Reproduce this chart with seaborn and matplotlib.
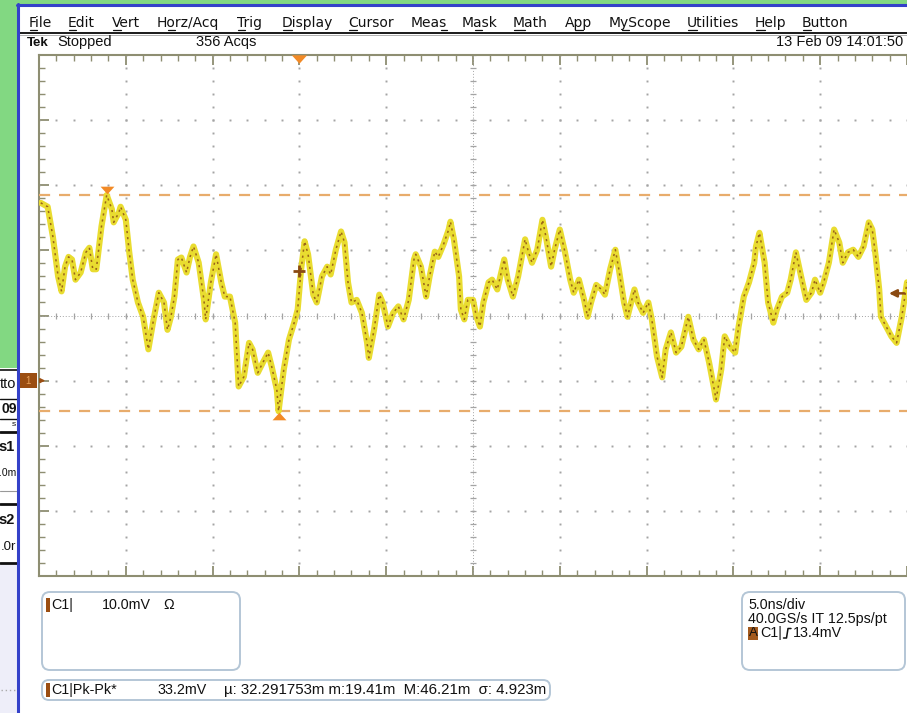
import numpy as np
import pandas as pd
import matplotlib
matplotlib.use("Agg")
import matplotlib.pyplot as plt
import seaborn as sns
from matplotlib.patches import Rectangle, FancyBboxPatch
from matplotlib.transforms import offset_copy

# ---- channel 1 record: time relative to trigger (ns) and amplitude (mV) ----
t_ns = [
    -14.9, -14.5, -14.2, -13.9, -13.7, -13.5, -13.3, -13.1, -12.9, -12.6,
    -12.3, -12.1, -11.9, -11.7, -11.4, -11.1, -10.8, -10.7, -10.4, -10.3,
    -10.0, -9.8, -9.6, -9.3, -9.0, -8.7, -8.4, -8.1, -7.8, -7.6,
    -7.4, -7.2, -7.0, -6.8, -6.5, -6.3, -6.1, -5.8, -5.5, -5.4,
    -5.1, -4.8, -4.5, -4.3, -4.0, -3.7, -3.5, -3.2, -2.9, -2.7,
    -2.4, -2.1, -1.8, -1.6, -1.3, -1.2, -0.9, -0.6, -0.3, -0.1,
    0.1, 0.3, 0.5, 0.8, 1.0, 1.3, 1.6, 1.8, 2.1, 2.4,
    2.6, 2.8, 3.0, 3.3, 3.6, 3.9, 4.0, 4.3, 4.6, 4.8,
    5.1, 5.4, 5.7, 6.0, 6.3, 6.6, 6.7, 7.0, 7.3, 7.5,
    7.8, 8.0, 8.3, 8.6, 8.7, 8.9, 9.2, 9.3, 9.5, 9.7,
    10.0, 10.2, 10.4, 10.6, 10.9, 11.1, 11.4, 11.8, 12.0, 12.3,
    12.6, 13.0, 13.2, 13.4, 13.7, 14.0, 14.2, 14.5, 14.7, 15.0,
    15.3, 15.6, 15.8, 16.1, 16.4, 16.6, 16.8, 17.1, 17.4, 17.6,
    17.9, 18.2, 18.4, 18.7, 18.9, 19.3, 19.5, 19.8, 20.1, 20.3,
    20.6, 20.9, 21.1, 21.4, 21.7, 22.0, 22.4, 22.7, 23.0, 23.3,
    23.6, 23.9, 24.0, 24.3, 24.5, 24.8, 25.1, 25.3, 25.6, 25.9,
    26.2, 26.3, 26.5, 26.8, 27.0, 27.3, 27.5, 27.8, 28.1, 28.3,
    28.6, 28.9, 29.2, 29.5, 29.7, 30.0, 30.2, 30.5, 30.8, 31.1,
    31.3, 31.6, 31.9, 32.2, 32.5, 32.8, 33.0, 33.2, 33.4, 33.5,
    33.8, 34.1, 34.4, 34.7, 35.0,
]
v_mv = [
    27.3, 26.7, 22.1, 16.0, 13.7, 17.5, 19.0, 18.6, 15.5, 16.6,
    19.7, 20.4, 17.1, 17.1, 23.7, 28.5, 26.3, 24.3, 25.8, 26.7,
    24.7, 19.7, 15.5, 12.0, 9.8, 4.8, 9.4, 13.5, 12.0, 7.8,
    9.8, 12.9, 18.6, 18.9, 16.6, 19.0, 20.6, 18.1, 12.4, 9.4,
    15.1, 19.4, 15.1, 12.9, 12.9, 8.9, -0.9, 0.6, 5.8, 4.8,
    1.2, 2.8, 4.3, 2.2, -1.4, -4.7, 1.7, 6.3, 8.9, 10.9,
    17.1, 21.4, 19.4, 13.2, 12.0, 16.0, 17.5, 16.3, 20.1, 22.9,
    21.2, 15.1, 12.0, 12.4, 10.4, 5.8, 3.5, 7.8, 13.2, 12.0,
    8.3, 10.4, 11.4, 9.4, 12.4, 18.6, 19.4, 17.5, 12.9, 16.0,
    19.8, 19.0, 20.9, 23.2, 24.4, 21.7, 16.0, 10.9, 9.4, 12.4,
    12.4, 9.8, 8.3, 12.0, 15.1, 15.5, 14.0, 18.6, 15.5, 12.9,
    16.0, 21.7, 19.7, 18.1, 20.1, 24.7, 22.1, 17.5, 20.1, 23.2,
    19.7, 15.5, 13.5, 15.5, 12.4, 9.8, 12.0, 14.7, 14.0, 13.2,
    17.1, 20.1, 17.1, 12.0, 9.8, 14.0, 12.0, 10.4, 12.0, 9.4,
    3.7, 0.5, 4.8, 7.4, 4.3, 5.2, 9.8, 6.3, 4.8, 6.3,
    2.8, -1.4, -2.9, 1.7, 6.8, 5.2, 4.3, 8.3, 12.9, 15.1,
    18.1, 20.6, 22.7, 18.1, 12.0, 8.9, 10.9, 12.9, 13.5, 15.5,
    19.7, 16.0, 12.4, 13.5, 15.5, 13.5, 15.1, 18.1, 23.2, 21.2,
    18.1, 19.7, 20.1, 19.0, 20.6, 24.3, 23.2, 19.0, 14.0, 9.8,
    8.3, 6.8, 5.8, 9.8, 15.1,
]

# ---- instrument settings and readouts ----
ns_per_div = 5.0
mv_per_div = 10.0
trigger_level_mv = 13.4
trigger_mark = (0.0, 16.8)
acq_count = 356
timestamp = "13 Feb 09 14:01:50"
sample_rate = "40.0GS/s IT 12.5ps/pt"
stat_labels = ["µ: 32.291753m", "m:19.41m", " M:46.21m", " σ: 4.923m"]

menu_items = ["File", "Edit", "Vert", "Horz/Acq", "Trig", "Display", "Cursor",
              "Meas", "Mask", "Math", "App", "MyScope", "Utilities", "Help", "Button"]
menu_x = [29, 68, 112, 157, 237, 282, 348, 411, 462, 513, 565, 609, 687, 755, 802]
menu_hotkey = [0, 0, 0, 1, 0, 0, 0, 3, 1, 0, 1, 1, 0, 0, 0]

sns.set_theme(style="white")
plt.rcParams["font.family"] = ["Liberation Sans", "DejaVu Sans"]

W, H = 907, 713
fig = plt.figure(figsize=(W / 100, H / 100), dpi=100)
fig.patch.set_facecolor("white")

brown = "#9b4e12"
orange = "#f28a26"
cursor_col = "#e8ac6c"
grid_col = "#a4a4a4"
olive = "#8e8e72"

# ---- graticule: 10 x 8 divisions ----
gx0, gx1, gy0, gy1 = 39, 907, 55, 576
ax = fig.add_axes([gx0 / W, 1 - gy1 / H, (gx1 - gx0) / W, (gy1 - gy0) / H], zorder=2)
t_lo, t_hi = -3 * ns_per_div, 7 * ns_per_div
v_lo, v_hi = -3 * mv_per_div, 5 * mv_per_div
t_c, v_c = (t_lo + t_hi) / 2, (v_lo + v_hi) / 2
major_t = np.arange(t_lo, t_hi + 0.01, ns_per_div)
major_v = np.arange(v_lo, v_hi + 0.01, mv_per_div)
minor_t = np.arange(t_lo, t_hi + 0.01, ns_per_div / 5)
minor_v = np.arange(v_lo, v_hi + 0.01, mv_per_div / 5)

df = pd.DataFrame({"t": t_ns, "v": v_mv})
sns.lineplot(data=df, x="t", y="v", sort=False, estimator=None,
             color="#e9dc30", lw=4.4, ax=ax, zorder=4)
sns.lineplot(data=df, x="t", y="v", sort=False, estimator=None,
             color="#9a6418", lw=1.1, ax=ax, zorder=5)
ax.lines[-1].set_dashes([1.4, 2.6])

ax.set_xlim(t_lo, t_hi)
ax.set_ylim(v_lo, v_hi)
ax.set_xlabel("")
ax.set_ylabel("")
ax.set_facecolor("white")

for t in major_t[1:-1]:
    if abs(t - t_c) < 1e-9:
        continue
    ax.plot(np.full(len(minor_v), t), minor_v, ls="none", marker="s", ms=1.4,
            mew=0, color=grid_col, zorder=1)
for v in major_v[1:-1]:
    if abs(v - v_c) < 1e-9:
        continue
    ax.plot(minor_t, np.full(len(minor_t), v), ls="none", marker="s", ms=1.4,
            mew=0, color=grid_col, zorder=1)
ax.axhline(v_c, color=grid_col, lw=0.7, ls=(0, (1, 2)), zorder=1)
ax.plot(minor_t, np.full(len(minor_t), v_c), ls="none", marker="|", ms=4,
        mew=0.9, color=grid_col, zorder=1)
ax.axvline(t_c, color=grid_col, lw=0.7, ls=(0, (1, 2)), zorder=1)
ax.plot(np.full(len(minor_v), t_c), minor_v, ls="none", marker="_", ms=4,
        mew=0.9, color=grid_col, zorder=1)

ax.set_xticks(major_t)
ax.set_xticks(minor_t, minor=True)
ax.set_yticks(major_v)
ax.set_yticks(minor_v, minor=True)
ax.tick_params(which="both", direction="in", bottom=True, top=True, left=True,
               right=False, labelbottom=False, labelleft=False, color=olive)
ax.tick_params(which="major", length=7, width=1.3)
ax.tick_params(which="minor", length=4, width=1.0)
for side in ["left", "top", "bottom"]:
    ax.spines[side].set_visible(True)
    ax.spines[side].set_color(olive)
    ax.spines[side].set_linewidth(1.5)
ax.spines["right"].set_visible(False)

# peak cursors from the record extremes
vmax, vmin = df["v"].max(), df["v"].min()
tmax, tmin = df["t"][df["v"].idxmax()], df["t"][df["v"].idxmin()]
for val in (vmax, vmin):
    ax.axhline(val, color=cursor_col, lw=1.6, dashes=(5, 4), zorder=3)
tri_down = [(-1, 0.55), (1, 0.55), (0, -0.55)]
tri_up = [(-1, -0.55), (1, -0.55), (0, 0.55)]
ax.plot([tmax], [vmax], marker=tri_down, ms=10, mew=0, color=orange, zorder=6,
        transform=offset_copy(ax.transData, fig=fig, x=0, y=5, units="dots"))
ax.plot([tmin], [vmin], marker=tri_up, ms=10, mew=0, color=orange, zorder=6,
        transform=offset_copy(ax.transData, fig=fig, x=0, y=-5, units="dots"))
# trigger position at the top edge
ax.plot([0.0], [v_hi], marker=tri_down, ms=11, mew=0, color=orange, zorder=6,
        clip_on=False,
        transform=offset_copy(ax.transData, fig=fig, x=0, y=-4, units="dots"))
ax.plot([trigger_mark[0]], [trigger_mark[1]], marker="+", ms=8, mew=2,
        color="#8a4a12", zorder=7)
# trigger level on the right edge
ax.annotate("", xy=(t_hi - 1.2, trigger_level_mv), xytext=(t_hi, trigger_level_mv),
            arrowprops=dict(arrowstyle="-|>", color="#8a4a12", lw=1.8,
                            mutation_scale=11),
            annotation_clip=False, zorder=7)

# ---- window chrome in screen pixels ----
ui = fig.add_axes([0, 0, 1, 1], zorder=3)
ui.set_xlim(0, W)
ui.set_ylim(H, 0)
ui.axis("off")
ui.patch.set_visible(False)

green = "#82d882"
blue = "#3441c9"
ui.add_patch(Rectangle((0, 0), W, 4.5, color=green, lw=0))
ui.add_patch(Rectangle((0, 0), 17, 368, color=green, lw=0))
ui.add_patch(Rectangle((0, 368), 17, 197, color="white", lw=0))
ui.add_patch(Rectangle((0, 565), 17, 148, color="#eeeef9", lw=0))
ui.plot([17.5, 17.5], [4, H], color=blue, lw=2.2, zorder=5)
ui.plot([17, W], [5.2, 5.2], color=blue, lw=2.2, zorder=5)

# menu bar with hot-key underlines
renderer = fig.canvas.get_renderer()
menu_font = dict(fontsize=10, family="DejaVu Sans", va="baseline", ha="left",
                 color="#111111")


def text_width(s):
    if not s:
        return 0.0
    tmp = ui.text(0, 0, s, **menu_font)
    w = tmp.get_window_extent(renderer).width
    tmp.remove()
    return w


for name, x, k in zip(menu_items, menu_x, menu_hotkey):
    ui.text(x, 27, name, **menu_font)
    w0 = text_width(name[:k])
    w1 = text_width(name[:k + 1])
    ui.plot([x + w0 + 0.5, x + w1 - 0.5], [29.8, 29.8], color="#111111", lw=0.9)

ui.plot([19, W], [32.5, 32.5], color="#1a1a1a", lw=1.4)
ui.plot([19, W], [34.5, 34.5], color="#b0b0b0", lw=0.7)

# status line
ui.text(27, 46, "Tek", fontsize=9.5, fontweight="bold", va="baseline", color="#111111")
ui.text(57, 46, "Stopped", fontsize=10.5, va="baseline", color="#111111")
ui.text(196, 46, f"{acq_count} Acqs", fontsize=10.5, va="baseline", color="#111111")
ui.text(903, 46, timestamp, fontsize=10.5, va="baseline", ha="right", color="#111111")

# channel 1 ground reference marker
y_gnd = gy0 + (v_hi - 0.0) / (v_hi - v_lo) * (gy1 - gy0)
ui.add_patch(Rectangle((20, y_gnd - 7.5), 17, 15, color=brown, lw=0, zorder=6))
ui.text(28.5, y_gnd, "1", fontsize=7, color="#e9a25a", ha="center", va="center", zorder=7)
ui.annotate("", xy=(48, y_gnd), xytext=(37, y_gnd),
            arrowprops=dict(arrowstyle="-|>", color=brown, lw=1, mutation_scale=7))

# neighbouring window at the left, partly hidden by the frame
side_lines = [(369.5, 1.2, "#111111"), (398.5, 1.0, "#111111"), (418.5, 1.0, "#111111"),
              (432, 2.0, "#111111"), (491, 0.8, "#999999"), (504, 2.0, "#111111"),
              (563, 2.0, "#111111")]
for yy, lw, col in side_lines:
    ui.plot([0, 17], [yy, yy], color=col, lw=lw)
side_text = [("tto", 16.5, 384, "normal", 10.5), ("09", 16.5, 409, "bold", 10),
             ("s", 16, 425, "normal", 6), ("s1", 15, 447, "bold", 10.5),
             (".0m", 16.5, 473, "normal", 7.5), ("s2", 15, 520, "bold", 10.5),
             (".0r", 16.5, 547, "normal", 9.5)]
for s, x, y, wt, fs in side_text:
    ui.text(x, y, s, ha="right", va="center", fontsize=fs, fontweight=wt,
            color="#111111")
ui.plot([1, 15], [690, 690], color="#aaaaaa", lw=1, ls=(0, (1, 2)))

# readout boxes
box_kw = dict(boxstyle="round,pad=0,rounding_size=8", fc="white", ec="#b4c6d6", lw=1.4)
txt_kw = dict(fontsize=10.3, va="center", ha="left", color="#111111")

ui.add_patch(FancyBboxPatch((42, 592), 198, 78, **box_kw))
ui.add_patch(Rectangle((46, 598), 4, 14, color=brown, lw=0))
ui.text(51, 605, "C1|", **txt_kw)
ui.text(102, 605, f"{mv_per_div:.1f}mV", **txt_kw)
ui.text(163, 605, "Ω", **txt_kw)

ui.add_patch(FancyBboxPatch((42, 680), 508, 20,
                            **dict(box_kw, boxstyle="round,pad=0,rounding_size=7")))
ui.add_patch(Rectangle((46, 683), 4, 14, color=brown, lw=0))
ui.text(51, 690, "C1|Pk-Pk*", **txt_kw)
ui.text(157, 690, f"{vmax - vmin:.1f}mV", **txt_kw)
ui.text(224, 690, " ".join(stat_labels), **dict(txt_kw, fontsize=10.8))

ui.add_patch(FancyBboxPatch((742, 592), 163, 78, **box_kw))
ui.text(748, 605, f"{ns_per_div:.1f}ns/div", **txt_kw)
ui.text(748, 619, sample_rate, **txt_kw)
ui.add_patch(Rectangle((748, 627), 10, 13, color="#a35a1e", lw=0))
ui.text(753, 633.5, "A", fontsize=9.5, ha="center", va="center", color="#111111")
ui.text(760, 633, "C1|", **txt_kw)
ui.plot([783.5, 786.5, 788, 791], [638, 638, 628.5, 628.5], color="#111111", lw=1.1)
ui.text(793, 633, f"{trigger_level_mv:.1f}mV", **txt_kw)

fig.savefig("out.png", dpi=100)
